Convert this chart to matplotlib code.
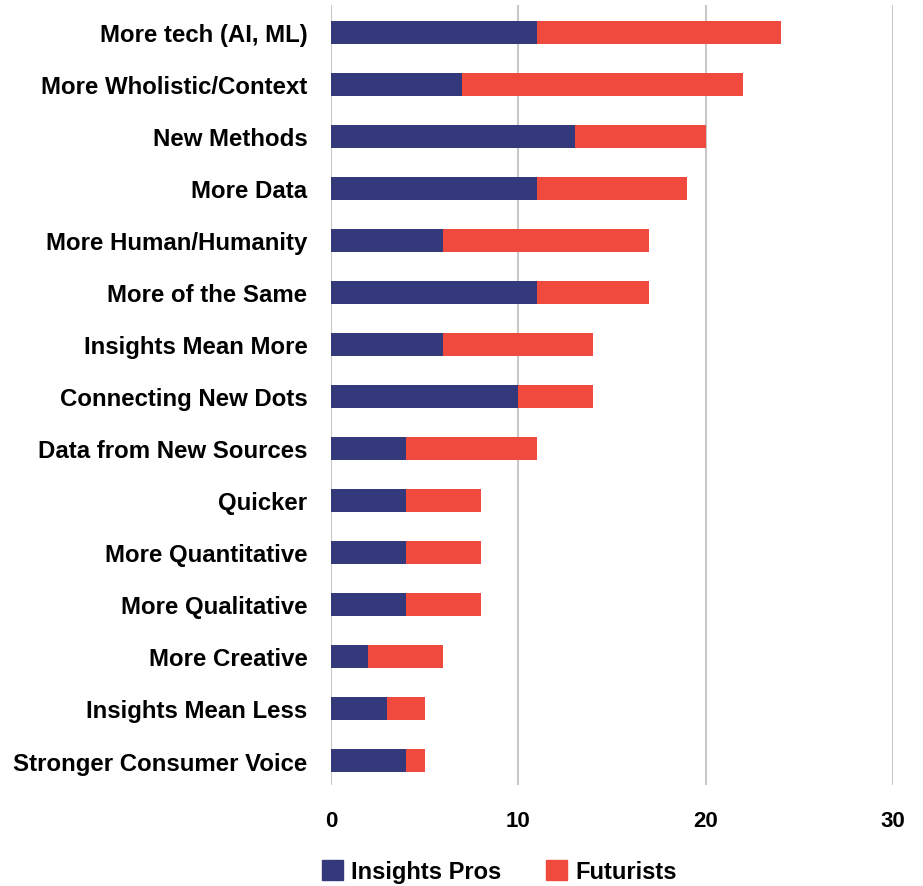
import numpy as np
import matplotlib
matplotlib.use('Agg')
from matplotlib import pyplot as plt
from matplotlib.patches import Patch

# categories top to bottom
categories = ['More tech (AI, ML)', 'More Wholistic/Context', 'New Methods', 'More Data',
              'More Human/Humanity', 'More of the Same', 'Insights Mean More',
              'Connecting New Dots', 'Data from New Sources', 'Quicker',
              'More Quantitative', 'More Qualitative', 'More Creative',
              'Insights Mean Less', 'Stronger Consumer Voice']
insights_pros = [11, 7, 13, 11, 6, 11, 6, 10, 4, 4, 4, 4, 2, 3, 4]
futurists = [13, 15, 7, 8, 11, 6, 8, 4, 7, 4, 4, 4, 4, 2, 1]
x_ticks = [0, 10, 20, 30]

blue = '#33397a'
red = '#f0493e'

plt.rcParams['font.family'] = ['Liberation Sans', 'DejaVu Sans']
plt.rcParams['font.weight'] = 'bold'

fig = plt.figure(figsize=(9.23, 8.87), dpi=100)
ax = fig.add_axes([0.3586, 0.1139, 0.6089, 0.8793])

y = np.arange(len(categories))
ax.barh(y, insights_pros, height=0.44, color=blue, zorder=3)
ax.barh(y, futurists, left=insights_pros, height=0.44, color=red, zorder=3)

ax.set_xlim(0, 30)
ax.set_ylim(14.47, -0.52)
ax.set_xticks(x_ticks)
ax.set_yticks(y)
ax.set_yticklabels(categories)
ax.tick_params(axis='both', length=0)
ax.tick_params(axis='y', pad=17, labelsize=17.3)
ax.tick_params(axis='x', pad=18, labelsize=16)

for t in x_ticks:
    ax.axvline(t, color='#c8c8c8', lw=1.5, zorder=1)

for s in ax.spines.values():
    s.set_visible(False)

handles = [Patch(color=blue, label='Insights Pros'), Patch(color=red, label='Futurists')]
fig.legend(handles=handles, loc='center', bbox_to_anchor=(0.541, 0.016), ncol=2,
           frameon=False, fontsize=17, handlelength=0.9, handleheight=0.9,
           columnspacing=1.9, handletextpad=0.35)

fig.savefig('out.png', dpi=100)
